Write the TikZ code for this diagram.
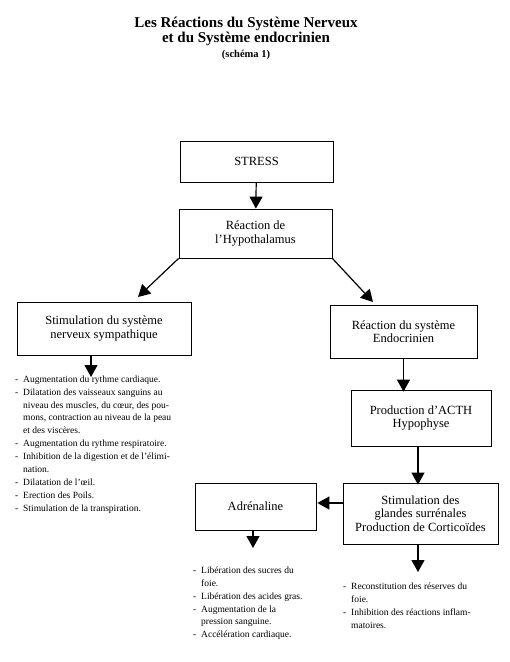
\documentclass[tikz,border=0pt]{standalone}
\usepackage{fontspec}
\setmainfont{Liberation Serif}
\usetikzlibrary{arrows.meta}
\tikzset{
  boite/.style={draw,line width=0.8pt,align=center,inner sep=2pt,font=\fontsize{12.5}{13.5}\selectfont},
  fleche/.style={line width=1.2pt,-{Triangle[width=13pt,length=12pt]}},
  liste/.style={anchor=north west,align=left,inner sep=0pt,font=\fontsize{9.5}{12.9}\selectfont}
}
\newcommand{\tiret}{\makebox[8pt][l]{-}}
\newcommand{\suite}{\hspace*{8pt}}

\begin{document}
\begin{tikzpicture}[x=1pt,y=-1pt]
\useasboundingbox (0,0) rectangle (510,662);
% titre
\node[align=center,inner sep=0pt,anchor=north,font=\bfseries\fontsize{15}{15}\selectfont] (titre) at (246,17)
 {Les Réactions du Système Nerveux\\ et du Système endocrinien\\ {\fontsize{10.5}{15}\selectfont (schéma 1)}};
% boites
\node[boite,minimum width=153pt,minimum height=41pt] (stress) at (256.5,161.5) {STRESS};
\node[boite,minimum width=153pt,minimum height=49pt] (hypo) at (255.5,233.5) {Réaction de\\ l'Hypothalamus};
\node[boite,minimum width=174pt,minimum height=53pt] (symp) at (104,328.5) {Stimulation du système\\ nerveux sympathique};
\node[boite,minimum width=147pt,minimum height=53pt] (endo) at (403.5,331.5) {Réaction du système\\ Endocrinien};
\node[boite,minimum width=140pt,minimum height=56pt] (acth) at (421,418) {Production d'ACTH\\ Hypophyse};
\node[boite,minimum width=155pt,minimum height=61pt] (glandes) at (420.5,513.5) {Stimulation des\\ glandes surrénales\\ Production de Corticoïdes};
\node[boite,minimum width=121pt,minimum height=47pt] (adre) at (255.5,506.5) {Adrénaline};
% bouts des fleches
\coordinate (s1) at (138,297);
\coordinate (e1) at (373,302);
\coordinate (s2) at (91,377);
\coordinate (a2) at (253,548);
\coordinate (g2) at (418,572);
% fleches
\draw[fleche] (stress) -- (hypo);
\draw[fleche] (hypo.south west) -- (s1);
\draw[fleche] (hypo.south east) -- (e1);
\draw[fleche] (symp.south -| s2) -- (s2);
\draw[fleche] (endo.south) -- ([yshift=-2pt]endo.south |- acth.north);
\draw[fleche] (acth.south -| g2) -- ([yshift=-2pt]glandes.north -| g2);
\draw[fleche] (glandes.west |- 0,503) -- ([xshift=1pt]adre.east |- 0,503);
\draw[fleche] (adre.south -| a2) -- (a2);
\draw[fleche] (glandes.south -| g2) -- (g2);
% listes
\node[liste] (l1) at (15,375.5) {\tiret Augmentation du rythme cardiaque.\\
 \tiret Dilatation des vaisseaux sanguins au\\
 \suite niveau des muscles, du cœur, des pou-\\
 \suite mons, contraction au niveau de la peau\\
 \suite et des viscères.\\
 \tiret Augmentation du rythme respiratoire.\\
 \tiret Inhibition de la digestion et de l'élimi-\\
 \suite nation.\\
 \tiret Dilatation de l'œil.\\
 \tiret Erection des Poils.\\
 \tiret Stimulation de la transpiration.};
\node[liste] (l2) at (193,566.5) {\tiret Libération des sucres du\\
 \suite foie.\\
 \tiret Libération des acides gras.\\
 \tiret Augmentation de la\\
 \suite pression sanguine.\\
 \tiret Accélération cardiaque.};
\node[liste] (l3) at (343,583) {\tiret Reconstitution des réserves du\\
 \suite foie.\\
 \tiret Inhibition des réactions inflam-\\
 \suite matoires.};
\end{tikzpicture}
\end{document}
